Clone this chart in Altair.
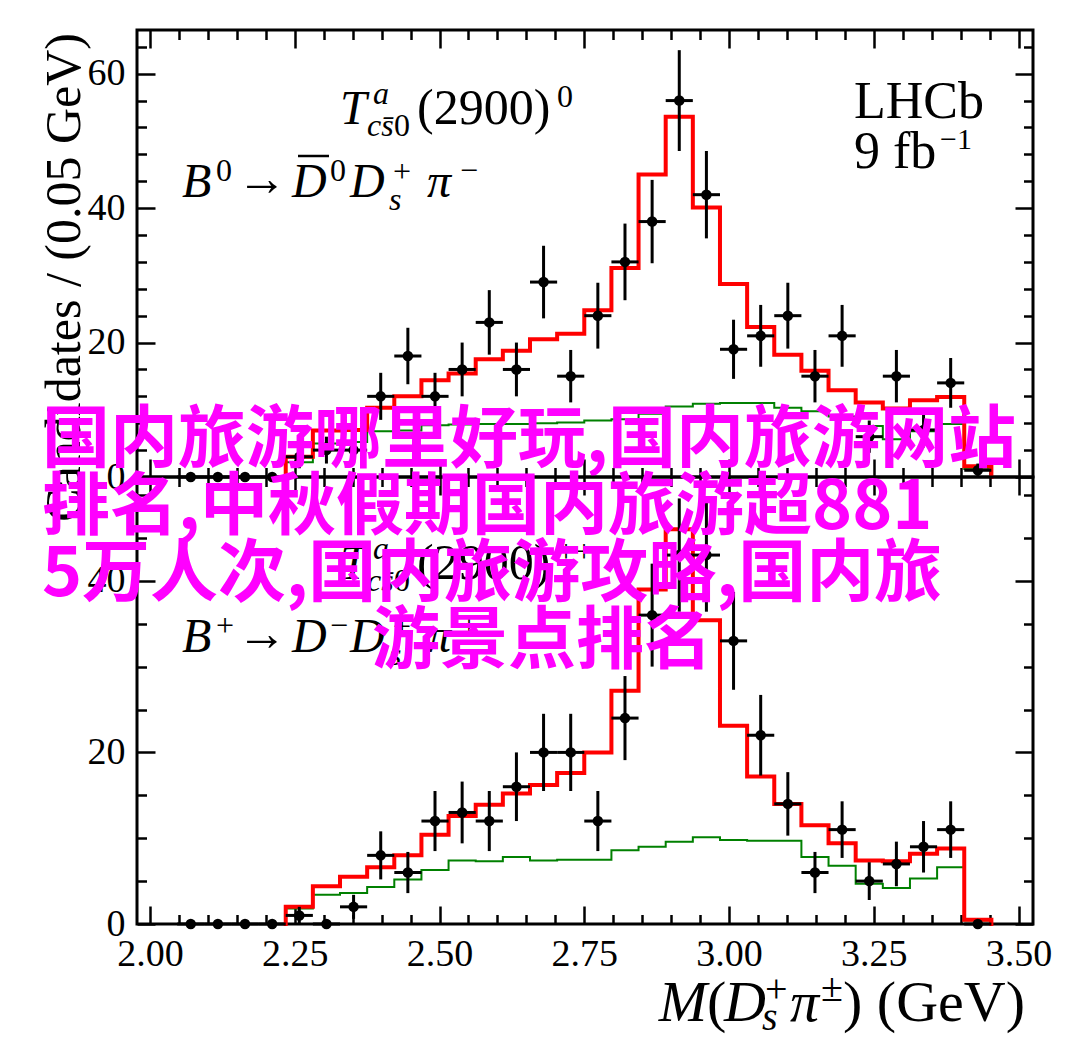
import altair as alt
import pandas as pd

# ---------------- data ----------------
# bin edges (32 bins between 2.0 and 3.5 GeV)
edges = [2.0, 2.046875, 2.09375, 2.140625, 2.1875, 2.234375, 2.28125, 2.328125,
         2.375, 2.421875, 2.46875, 2.515625, 2.5625, 2.609375, 2.65625, 2.703125,
         2.75, 2.796875, 2.84375, 2.890625, 2.9375, 2.984375, 3.03125, 3.078125,
         3.125, 3.171875, 3.21875, 3.265625, 3.3125, 3.359375, 3.40625, 3.453125, 3.5]

# data points, bins 1..30
top_counts = [0, 0, 0, 0, 3, 4, 4, 12, 18, 12, 16, 23, 16, 29, 15, 24, 32, 38, 56, 42,
              19, 21, 24, 15, 21, 6, 15, 7, 14, 1]
top_errs = [0, 0, 0, 0, 1.7, 2.0, 2.0, 3.5, 4.2, 3.5, 4.0, 4.8, 4.0, 5.4, 3.9, 4.9, 5.7,
            6.2, 7.5, 6.5, 4.4, 4.6, 4.9, 3.9, 4.6, 2.4, 3.9, 2.6, 3.7, 1.0]
bot_counts = [0, 0, 0, 0, 1, 0, 2, 8, 6, 12, 13, 12, 16, 20, 20, 12, 24, 36, 43, 43,
              33, 22, 14, 6, 11, 5, 7, 9, 11, 0]
bot_errs = [0, 0, 0, 0, 1.0, 0, 1.4, 2.8, 2.4, 3.5, 3.6, 3.5, 4.0, 4.5, 4.5, 3.5, 4.9,
            6.0, 6.6, 6.6, 5.7, 4.7, 3.7, 2.4, 3.3, 2.2, 2.6, 3.0, 3.3, 0]

# fit histograms, bins 5..30
top_red = [3.0, 6.9, 7.0, 10.3, 12.0, 14.4, 15.4, 17.5, 18.8, 20.5, 21.3, 24.8, 31.1,
           45.0, 53.6, 40.1, 28.7, 22.3, 18.2, 15.8, 12.9, 11.1, 10.2, 11.4, 11.9, 1.6]
top_green = [2.2, 5.0, 5.2, 6.8, 6.9, 7.7, 7.8, 7.9, 7.9, 8.0, 8.1, 8.4, 8.6, 9.4, 10.5,
             10.9, 11.0, 11.0, 10.3, 9.8, 9.0, 7.6, 5.6, 6.8, 7.9, 1.2]
bot_red = [2.0, 4.4, 5.5, 6.6, 8.0, 10.4, 12.6, 13.9, 15.2, 16.2, 17.6, 20.0, 27.2, 39.0,
           46.0, 35.4, 23.1, 17.2, 14.0, 11.5, 9.4, 7.4, 7.3, 8.2, 8.8, 0.5]
bot_green = [1.8, 3.4, 3.6, 4.3, 5.2, 6.3, 7.4, 7.3, 7.8, 7.4, 7.5, 7.5, 8.6, 9.0, 9.6,
             10.1, 9.8, 9.7, 9.7, 7.8, 6.8, 4.7, 4.2, 5.3, 6.6, 0.4]

x_major = [2.0, 2.25, 2.5, 2.75, 3.0, 3.25, 3.5]
x_minor = [2.05, 2.1, 2.15, 2.2, 2.3, 2.35, 2.4, 2.45, 2.55, 2.6, 2.65, 2.7, 2.8, 2.85,
           2.9, 2.95, 3.05, 3.1, 3.15, 3.2, 3.3, 3.35, 3.4, 3.45]
top_y_major = [0, 20, 40, 60]
top_y_minor = [4, 8, 12, 16, 24, 28, 32, 36, 44, 48, 52, 56, 64]
bot_y_major = [0, 20, 40]
bot_y_minor = [5, 10, 15, 25, 30, 35, 45, 50]

overlay_lines = ["国内旅游哪里好玩,国内旅游网站", "排名,中秋假期国内旅游超881",
                 "5万人次,国内旅游攻略,国内旅", "游景点排名"]

# ---------------- layout constants ----------------
SERIF = "Liberation Serif"
CJK = "Noto Sans CJK SC"
W = 896
H = 447
XDOM = [1.9775, 3.525]
MAJ, MIN = 18, 9.5
ONE = pd.DataFrame({"k": [0]})


def txt(s, x, y, size, italic=False, align="left", color="black", font=SERIF,
        weight="normal", angle=0, baseline="alphabetic"):
    return alt.Chart(ONE).mark_text(
        text=s, font=font, fontSize=size, fontStyle="italic" if italic else "normal",
        fontWeight=weight, align=align, baseline=baseline, color=color, angle=angle
    ).encode(x=alt.value(x), y=alt.value(y))


def outline(lo, hi, vals):
    xs, ys = [lo[0]], [0.0]
    for a, b, v in zip(lo, hi, vals):
        xs += [a, b]
        ys += [v, v]
    xs.append(hi[-1])
    ys.append(0.0)
    return pd.DataFrame({"x": xs, "y": ys, "i": list(range(len(xs)))})


def panel(counts, errs, red, green, ydom, y_major, y_minor, show_x, texts):
    lo = edges[1:31]
    hi = edges[2:32]
    pts = pd.DataFrame({
        "xl": lo, "xh": hi,
        "v": counts, "e": errs,
    })
    pts["c"] = (pts["xl"] + pts["xh"]) / 2
    pts["lo"] = pts["v"] - pts["e"]
    pts["hi"] = pts["v"] + pts["e"]

    xs = alt.Scale(domain=XDOM, nice=False, zero=False)
    ys = alt.Scale(domain=ydom, nice=False, zero=False)

    def tick_axis(orient, offset, values, size):
        return alt.Axis(orient=orient, offset=offset, values=values, tickSize=size,
                        tickWidth=2.5, tickColor="black", ticks=True, labels=False,
                        domain=False, grid=False, title=None)

    def tick_layer(xo, yo, xv, yv, size):
        return alt.Chart(pts).mark_point(opacity=0).encode(
            x=alt.X("c:Q", scale=xs, axis=tick_axis(xo, -H, xv, size)),
            y=alt.Y("v:Q", scale=ys, axis=tick_axis(yo, -W, yv, size)),
        )

    layers = [
        tick_layer("top", "right", x_major, y_major, MAJ),
        tick_layer("top", "right", x_minor, y_minor, MIN),
        tick_layer("bottom", "left", x_major, y_major, MAJ),
        tick_layer("bottom", "left", x_minor, y_minor, MIN),
    ]
    if show_x:
        xax = alt.Axis(orient="bottom", values=x_major, format=".2f", labelFont=SERIF,
                       labelFontSize=38, labelPadding=11, ticks=False, tickSize=0,
                       domain=False, grid=False, title=None, labelFlush=False,
                       labelOverlap=False, labelColor="black")
    else:
        xax = None
    yax = alt.Axis(orient="left", values=y_major, format="d", labelFont=SERIF,
                   labelFontSize=38, labelPadding=12, ticks=False, tickSize=0,
                   domain=False, grid=False, title=None, labelFlush=False,
                   labelOverlap=False, labelColor="black")
    layers.append(alt.Chart(pts).mark_point(opacity=0).encode(
        x=alt.X("c:Q", scale=xs, axis=xax),
        y=alt.Y("v:Q", scale=ys, axis=yax),
    ))

    flo = edges[5:31]
    fhi = edges[6:32]
    for vals, col, sw in [(green, "#008000", 2), (red, "#ff0000", 4)]:
        layers.append(alt.Chart(outline(flo, fhi, vals)).mark_line(
            color=col, strokeWidth=sw, strokeJoin="miter", strokeCap="square"
        ).encode(
            x=alt.X("x:Q", scale=xs, axis=None),
            y=alt.Y("y:Q", scale=ys, axis=None),
            order=alt.Order("i:Q"),
        ))

    base = alt.Chart(pts)
    layers.append(base.mark_rule(color="black", strokeWidth=3).encode(
        x=alt.X("c:Q", scale=xs, axis=None),
        y=alt.Y("lo:Q", scale=ys, axis=None), y2="hi:Q"))
    layers.append(base.mark_rule(color="black", strokeWidth=3).encode(
        x=alt.X("xl:Q", scale=xs, axis=None), x2="xh:Q",
        y=alt.Y("v:Q", scale=ys, axis=None)))
    layers.append(base.mark_circle(color="black", size=110, opacity=1).encode(
        x=alt.X("c:Q", scale=xs, axis=None),
        y=alt.Y("v:Q", scale=ys, axis=None)))

    layers += texts
    return alt.layer(*layers).resolve_axis(x="independent", y="independent").properties(
        width=W, height=H)


def decay_texts(dy, charge_top, second_line):
    t = [
        txt("T", 203, 94 + dy, 48, italic=True),
        txt("a", 236, 74 + dy, 32, italic=True),
        txt("cs\u0304", 230, 106 + dy, 32, italic=True),
        txt("0", 257, 106 + dy, 32),
        txt("(2900)", 280, 94 + dy, 50),
        txt(charge_top, 420, 77 + dy, 32),
    ]
    return t + second_line


top_line2 = [
    txt("B", 45, 167, 48, italic=True),
    txt("0", 79, 151, 32),
    txt("\u2192", 100, 165, 50),
    txt("D", 155, 167, 48, italic=True),
    alt.Chart(ONE).mark_rule(color="black", strokeWidth=2.5).encode(
        x=alt.value(161), x2=alt.value(192), y=alt.value(126)),
    txt("0", 193, 151, 32),
    txt("D", 213, 167, 48, italic=True),
    txt("s", 252, 180, 32, italic=True),
    txt("+", 256, 152, 32),
    txt("\u03c0", 290, 167, 48, italic=True),
    txt("\u2212", 323, 151, 32),
]
bot_line2 = [
    txt("B", 45, 175, 48, italic=True),
    txt("+", 79, 159, 32),
    txt("\u2192", 100, 173, 50),
    txt("D", 155, 175, 48, italic=True),
    txt("\u2212", 193, 159, 32),
    txt("D", 213, 175, 48, italic=True),
    txt("s", 252, 188, 32, italic=True),
    txt("+", 256, 160, 32),
    txt("\u03c0", 290, 175, 48, italic=True),
    txt("+", 323, 159, 32),
]

MAG = dict(font=CJK, weight="bold", color="#ff00ff")

top_texts = decay_texts(0, "0", top_line2) + [
    txt("LHCb", 717, 88, 52),
    txt("9 fb", 717, 138, 52),
    txt("\u22121", 803, 119, 30),
    txt("Candidates / (0.05 GeV)", -72, 3, 50, angle=270, align="right",
        baseline="middle"),
    txt(overlay_lines[0], -95, 432, 68, **MAG),
]

bot_texts = decay_texts(8, "++", bot_line2) + [
    txt("M", 570, 544, 58, italic=True, align="right"),
    txt("(", 570, 544, 58),
    txt("D", 587, 544, 58, italic=True),
    txt("s", 625, 553, 40, italic=True),
    txt("+", 628, 525, 40),
    txt("\u03c0", 653, 544, 58, italic=True),
    txt("\u00b1", 684, 524, 40),
    txt(") (GeV)", 888, 544, 58, align="right"),
    txt(overlay_lines[1], -95, 52, 68, **MAG),
    txt(overlay_lines[2], -95, 119, 68, **MAG),
    txt(overlay_lines[3], 235, 186, 68, **MAG),
]

top = panel(top_counts, top_errs, top_red, top_green, [0, 66.5],
            top_y_major, top_y_minor, False, top_texts)
bot = panel(bot_counts, bot_errs, bot_red, bot_green, [0, 52.1],
            bot_y_major, bot_y_minor, True, bot_texts)

chart = alt.vconcat(top, bot, spacing=0, bounds="flush").properties(
    padding={"left": 30, "top": 19, "right": 5, "bottom": 5},
    background="white",
).configure_view(stroke="black", strokeWidth=3)

chart.save("out.html", embed_options={"renderer": "svg", "actions": False})
